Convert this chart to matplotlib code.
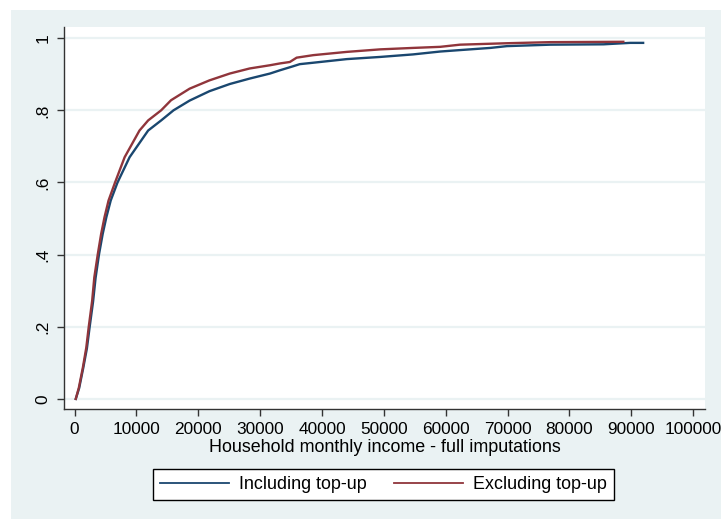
import matplotlib.pyplot as plt
from matplotlib.patches import Rectangle

# income (thousands) and cumulative share
inc_excl = [0.2, 0.7, 1.35, 1.9, 2.3, 2.85, 3.2, 3.75, 4.3, 4.85, 5.5, 6.55, 8.1, 10.5, 11.9,
            14.0, 15.6, 18.6, 21.8, 25.1, 28.3, 31.6, 33.2, 34.8, 35.9, 38.6, 44.0, 49.4,
            54.7, 59.1, 62.3, 69.9, 76.9, 88.7]
cdf_excl = [0.0, 0.031, 0.087, 0.142, 0.2, 0.272, 0.337, 0.4, 0.457, 0.504, 0.55, 0.6, 0.67,
            0.744, 0.772, 0.8, 0.828, 0.86, 0.883, 0.902, 0.916, 0.925, 0.93, 0.934, 0.946,
            0.953, 0.962, 0.969, 0.973, 0.976, 0.982, 0.986, 0.989, 0.99]

inc_incl = [0.2, 0.75, 1.4, 2.0, 2.45, 3.0, 3.4, 3.95, 4.55, 5.15, 5.85, 6.95, 8.9, 11.9, 14.0,
            16.0, 18.6, 21.8, 25.1, 28.3, 31.6, 33.2, 35.3, 36.4, 38.6, 44.0, 49.4, 54.7,
            59.1, 62.3, 67.2, 69.9, 76.9, 85.5, 89.8, 91.9]
cdf_incl = [0.0, 0.03, 0.085, 0.14, 0.2, 0.27, 0.335, 0.4, 0.457, 0.504, 0.55, 0.6, 0.67,
            0.744, 0.772, 0.8, 0.827, 0.853, 0.873, 0.888, 0.902, 0.911, 0.922, 0.928,
            0.932, 0.942, 0.948, 0.955, 0.963, 0.967, 0.973, 0.978, 0.982, 0.983, 0.987, 0.987]

xticks = [0, 10000, 20000, 30000, 40000, 50000, 60000, 70000, 80000, 90000, 100000]
yticks = [0, 0.2, 0.4, 0.6, 0.8, 1.0]
ylabels = ["0", ".2", ".4", ".6", ".8", "1"]

plt.rcParams['font.family'] = ['Liberation Sans', 'DejaVu Sans']
fs = 12.4      # tick labels
fs_txt = 12.9  # axis title and legend
bg = '#EAF2F3'
blue = '#1A476F'
red = '#90353B'

fig = plt.figure(figsize=(7.21, 5.19), dpi=100, facecolor='white')
# stata-style outer panel
fig.patches.append(Rectangle((11 / 721, 0), 1, 509 / 519, transform=fig.transFigure,
                             facecolor=bg, edgecolor='none', zorder=-5))

ax = fig.add_axes([64 / 721, 110 / 519, 641 / 721, 382 / 519])
ax.set_facecolor('white')

for yv in yticks:
    ax.axhline(yv, color=bg, lw=1.6, zorder=1)

ax.plot([v * 1000 for v in inc_incl], cdf_incl, color=blue, lw=1.7, label='Including top-up', zorder=3)
ax.plot([v * 1000 for v in inc_excl], cdf_excl, color=red, lw=1.7, label='Excluding top-up', zorder=3)

ax.set_xlim(-1700, 101900)
ax.set_ylim(-0.028, 1.031)

ax.set_xticks(xticks)
ax.set_xticklabels([str(v) for v in xticks], fontsize=fs)
ax.set_yticks(yticks)
ax.set_yticklabels(ylabels, fontsize=fs, rotation=90, va='center')
ax.tick_params(axis='both', direction='out', length=5, width=1, color='#333333', pad=4.5)

for s in ['top', 'right']:
    ax.spines[s].set_visible(False)
for s in ['left', 'bottom']:
    ax.spines[s].set_color('#333333')
    ax.spines[s].set_linewidth(1)

ax.set_xlabel('Household monthly income - full imputations', fontsize=fs_txt, labelpad=1.5)

leg = fig.legend(loc='center', bbox_to_anchor=(383.2 / 721, 34.5 / 519), ncol=2,
                 fontsize=fs_txt, frameon=True, fancybox=False, edgecolor='black',
                 facecolor='white', framealpha=1, handlelength=3.85, handletextpad=0.54,
                 columnspacing=1.54, borderpad=0.4)
leg.get_frame().set_linewidth(1)
for line in leg.get_lines():
    line.set_linewidth(1.3)

fig.savefig('out.png', dpi=100, facecolor=fig.get_facecolor())
